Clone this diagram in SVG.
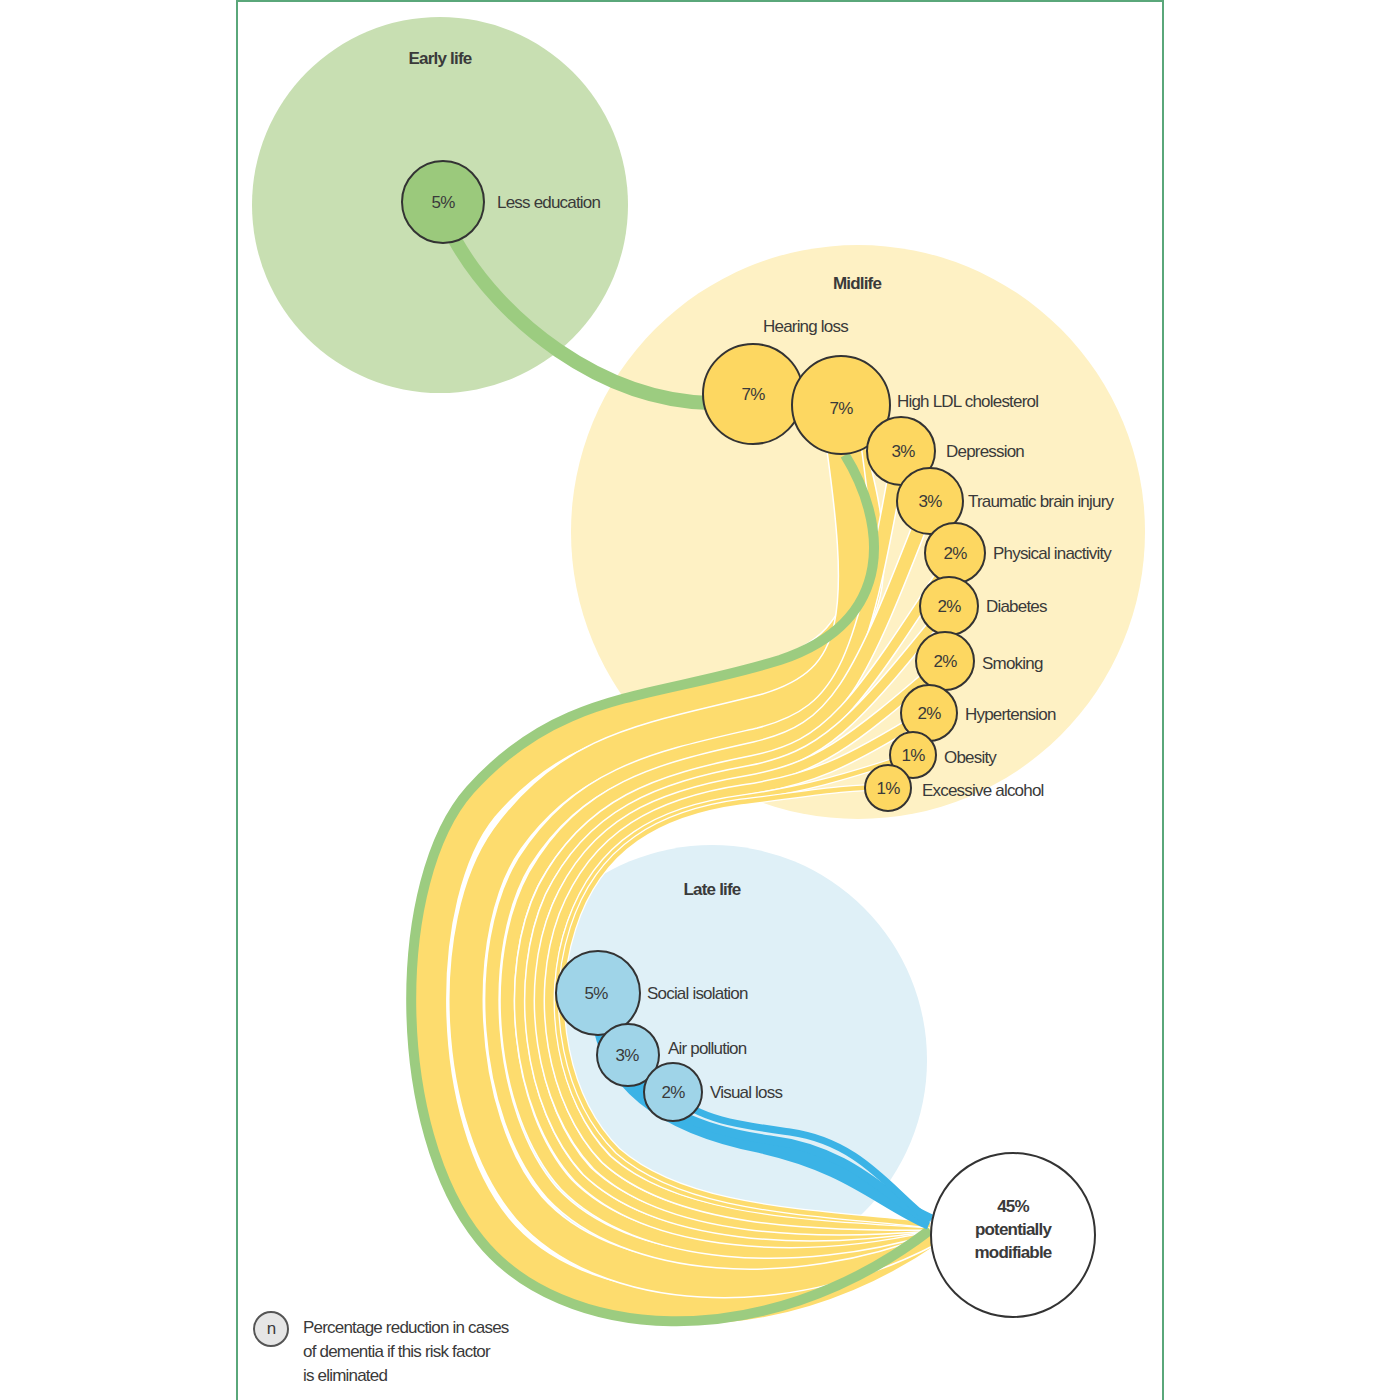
<svg xmlns="http://www.w3.org/2000/svg" width="1400" height="1400" viewBox="0 0 1400 1400">
<style>
text{font-family:"Liberation Sans",Arial,sans-serif;fill:#3a3a3a;font-size:17px;letter-spacing:-0.8px}
.b{font-weight:bold}
.c{text-anchor:middle}
.w{fill:none;stroke:#fff;stroke-linecap:butt}
.y{fill:none;stroke:#fddc6e;stroke-linecap:butt}
.bl{fill:none;stroke:#3bb3e6}
.g{fill:none;stroke:#9ccc80}
.ny{fill:#fdd761;stroke:#333;stroke-width:2}
.ng{fill:#9bc97c;stroke:#333;stroke-width:2}
.nb{fill:#9fd4e8;stroke:#333;stroke-width:2}
</style>
<rect width="1400" height="1400" fill="#fff"/>
<rect x="237" y="1" width="926" height="1420" fill="none" stroke="#5aa77a" stroke-width="2"/>
<g id="backgrounds">
<circle cx="440" cy="205" r="188" fill="#c8dfb2"/>
<circle cx="858" cy="532" r="287" fill="#fef1c4"/>
<circle cx="712" cy="1060" r="215" fill="#dff0f7"/>
</g>
<g id="connectors">
<path class="g" stroke-width="14" d="M455 240 C500 320,600 400,710 403"/>
<g>
<path class="w" stroke-width="36" d="M840 420 C880 552,888 641,775 677 C651 713,565 709,482 806 C409 895,411 1126,496 1229 C575 1325,767 1342,930 1229"/>
<path class="y" stroke-width="33" d="M840 420 C880 552,888 641,775 677 C651 713,565 709,482 806 C409 895,411 1126,496 1229 C575 1325,767 1342,930 1229"/>
<path class="w" stroke-width="36" d="M840 420 C869 615,865 682,766 711 C653 740,574 746,507 839 C446 925,453 1119,529 1208 C605 1294,781 1307,930 1228"/>
<path class="y" stroke-width="33" d="M840 420 C869 615,865 682,766 711 C653 740,574 746,507 839 C446 925,453 1119,529 1208 C605 1294,781 1307,930 1228"/>
<path class="w" stroke-width="16" d="M900 450 C862 661,848 712,759 735 C655 759,581 773,524 862 C473 947,483 1114,552 1193 C627 1273,791 1282,930 1227"/>
<path class="y" stroke-width="13" d="M900 450 C862 661,848 712,759 735 C655 759,581 773,524 862 C473 947,483 1114,552 1193 C627 1273,791 1282,930 1227"/>
<path class="w" stroke-width="16" d="M930 500 C857 688,838 730,755 749 C656 771,585 789,535 876 C489 960,501 1111,566 1184 C640 1260,797 1267,930 1227"/>
<path class="y" stroke-width="13" d="M930 500 C857 688,838 730,755 749 C656 771,585 789,535 876 C489 960,501 1111,566 1184 C640 1260,797 1267,930 1227"/>
<path class="w" stroke-width="12" d="M955 553 C853 710,830 745,752 761 C657 780,588 802,543 888 C502 971,516 1109,578 1177 C651 1249,802 1255,930 1226"/>
<path class="y" stroke-width="9" d="M955 553 C853 710,830 745,752 761 C657 780,588 802,543 888 C502 971,516 1109,578 1177 C651 1249,802 1255,930 1226"/>
<path class="w" stroke-width="12" d="M948 606 C850 728,823 756,749 771 C658 788,591 813,550 897 C513 980,528 1107,587 1171 C660 1240,806 1245,930 1226"/>
<path class="y" stroke-width="9" d="M948 606 C850 728,823 756,749 771 C658 788,591 813,550 897 C513 980,528 1107,587 1171 C660 1240,806 1245,930 1226"/>
<path class="w" stroke-width="12" d="M945 661 C847 746,817 768,747 781 C658 796,593 823,557 907 C523 988,540 1105,597 1165 C668 1232,810 1235,930 1226"/>
<path class="y" stroke-width="9" d="M945 661 C847 746,817 768,747 781 C658 796,593 823,557 907 C523 988,540 1105,597 1165 C668 1232,810 1235,930 1226"/>
<path class="w" stroke-width="12" d="M928 713 C844 765,810 780,744 790 C659 803,596 834,564 916 C534 997,552 1103,606 1159 C677 1223,814 1225,930 1225"/>
<path class="y" stroke-width="9" d="M928 713 C844 765,810 780,744 790 C659 803,596 834,564 916 C534 997,552 1103,606 1159 C677 1223,814 1225,930 1225"/>
<path class="w" stroke-width="7" d="M913 755 C842 778,805 789,742 798 C659 809,598 842,570 923 C542 1003,561 1101,613 1154 C683 1216,817 1217,930 1225"/>
<path class="y" stroke-width="4.5" d="M913 755 C842 778,805 789,742 798 C659 809,598 842,570 923 C542 1003,561 1101,613 1154 C683 1216,817 1217,930 1225"/>
<path class="w" stroke-width="7" d="M888 787 C841 787,802 795,741 802 C660 813,599 847,573 928 C547 1008,567 1100,618 1151 C688 1212,819 1212,930 1225"/>
<path class="y" stroke-width="4.5" d="M888 787 C841 787,802 795,741 802 C660 813,599 847,573 928 C547 1008,567 1100,618 1151 C688 1212,819 1212,930 1225"/>
</g>
<path class="g" stroke-width="10" d="M845 455 C885 520,900 620,780 660 C650 700,560 690,470 790 C390 880,390 1130,480 1240 C560 1340,760 1360,930 1230"/>
<g>
<path class="bl" stroke-width="16" d="M598 1000 C600 1080,660 1125,760 1145 C850 1165,880 1200,930 1222"/>
<path class="w" stroke-width="3" d="M628 1060 C650 1110,700 1130,770 1140 C850 1150,885 1195,930 1222"/>
<path class="bl" stroke-width="9" d="M628 1060 C650 1110,700 1130,770 1140 C850 1150,885 1195,930 1222"/>
<path class="w" stroke-width="3" d="M673 1095 C700 1120,740 1125,790 1132 C860 1142,890 1190,930 1221"/>
<path class="bl" stroke-width="7" d="M673 1095 C700 1120,740 1125,790 1132 C860 1142,890 1190,930 1221"/>
</g>
</g>
<text class="b c" x="440" y="64">Early life</text>
<text class="b c" x="857" y="289">Midlife</text>
<text class="b c" x="712" y="895">Late life</text>
<g id="less-education"><circle class="ng" cx="443" cy="202" r="41"/><text class="c" x="443" y="208" font-size="15">5%</text><text x="497" y="208">Less education</text></g>
<g id="hearing-loss"><circle class="ny" cx="753" cy="394" r="50"/><text class="c" x="753" y="400" font-size="15">7%</text><text x="763" y="332">Hearing loss</text></g>
<g id="ldl"><circle class="ny" cx="841" cy="405" r="49"/><text class="c" x="841" y="414" font-size="15">7%</text><text x="897" y="407">High LDL cholesterol</text></g>
<g id="depression"><circle class="ny" cx="901" cy="451" r="34"/><text class="c" x="903" y="457" font-size="15">3%</text><text x="946" y="457">Depression</text></g>
<g id="tbi"><circle class="ny" cx="930" cy="501" r="33"/><text class="c" x="930" y="507" font-size="15">3%</text><text x="968" y="507">Traumatic brain injury</text></g>
<g id="physical-inactivity"><circle class="ny" cx="955" cy="553" r="30"/><text class="c" x="955" y="559" font-size="15">2%</text><text x="993" y="559">Physical inactivity</text></g>
<g id="diabetes"><circle class="ny" cx="949" cy="606" r="29"/><text class="c" x="949" y="612" font-size="15">2%</text><text x="986" y="612">Diabetes</text></g>
<g id="smoking"><circle class="ny" cx="945" cy="661" r="29"/><text class="c" x="945" y="667" font-size="15">2%</text><text x="982" y="669">Smoking</text></g>
<g id="hypertension"><circle class="ny" cx="929" cy="713" r="28"/><text class="c" x="929" y="719" font-size="15">2%</text><text x="965" y="720">Hypertension</text></g>
<g id="obesity"><circle class="ny" cx="913" cy="755" r="23"/><text class="c" x="913" y="761" font-size="14">1%</text><text x="944" y="763">Obesity</text></g>
<g id="alcohol"><circle class="ny" cx="888" cy="788" r="23"/><text class="c" x="888" y="794" font-size="14">1%</text><text x="922" y="796">Excessive alcohol</text></g>
<g id="social-isolation"><circle class="nb" cx="598" cy="993" r="42"/><text class="c" x="596" y="999" font-size="15">5%</text><text x="647" y="999">Social isolation</text></g>
<g id="air-pollution"><circle class="nb" cx="628" cy="1055" r="31"/><text class="c" x="627" y="1061" font-size="15">3%</text><text x="668" y="1054">Air pollution</text></g>
<g id="visual-loss"><circle class="nb" cx="673" cy="1092" r="29"/><text class="c" x="673" y="1098" font-size="15">2%</text><text x="710" y="1098">Visual loss</text></g>
<g id="total"><circle cx="1013" cy="1235" r="82" fill="#fff" stroke="#333" stroke-width="2"/><text class="b c" x="1013" y="1212">45%</text><text class="b c" x="1013" y="1235">potentially</text><text class="b c" x="1013" y="1258">modifiable</text></g>
<g id="legend"><circle cx="271" cy="1329" r="17" fill="#e6e6e6" stroke="#555" stroke-width="2"/><text class="c" x="271" y="1334" font-size="13">n</text>
<text x="303" y="1333">Percentage reduction in cases</text><text x="303" y="1357">of dementia if this risk factor</text><text x="303" y="1381">is eliminated</text></g>
</svg>
